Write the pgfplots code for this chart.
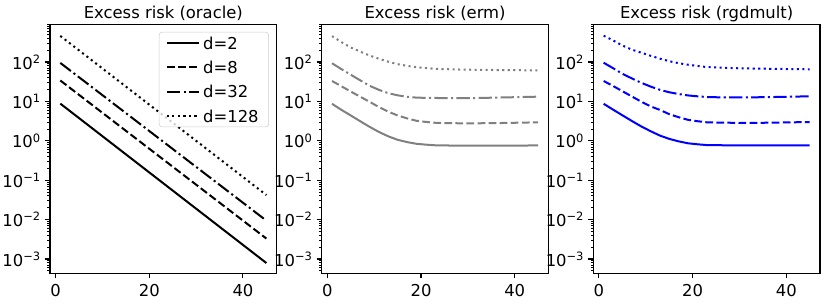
\documentclass[border=0pt]{standalone}
\usepackage{pgfplots}
\pgfplotsset{compat=1.18}
\usepackage{fontspec}
\setmainfont{DejaVu Sans}
\definecolor{mplgray}{HTML}{808080}
\definecolor{mplblue}{HTML}{0000FF}
\newcommand{\fs}{\fontsize{12.3}{14.8}\selectfont}
\pgfplotsset{
  mypanel/.style={
    scale only axis, width=170pt, height=187.1pt,
    xmin=-1.2, xmax=47.2, ymin=4.27e-4, ymax=920,
    xtick={0,20,40}, xticklabels={0,20,40},
    ytick={1e-3,1e-2,1e-1,1,10,100},
    yticklabels={10\textsuperscript{−3},10\textsuperscript{−2},10\textsuperscript{−1},10\textsuperscript{0},10\textsuperscript{1},10\textsuperscript{2}},
    minor ytick={5e-4,6e-4,7e-4,8e-4,9e-4,
      2e-3,3e-3,4e-3,5e-3,6e-3,7e-3,8e-3,9e-3,
      2e-2,3e-2,4e-2,5e-2,6e-2,7e-2,8e-2,9e-2,
      2e-1,3e-1,4e-1,5e-1,6e-1,7e-1,8e-1,9e-1,
      2,3,4,5,6,7,8,9,
      20,30,40,50,60,70,80,90,
      200,300,400,500,600,700,800,900},
    tick pos=left, tick align=outside,
    major tick length=3.65pt, minor tick length=2.1pt,
    every tick/.style={black},
    every major tick/.append style={line width=0.8pt},
    every minor tick/.append style={line width=0.6pt},
    axis line style={line width=0.8pt, black},
    tick label style={font=\fs},
    yticklabel style={inner sep=0pt, xshift=-3pt},
    xticklabel style={inner sep=0pt, yshift=-4.2pt},
    every axis title/.style={font=\fs, at={(0.5,1)}, anchor=base, yshift=4.1pt, inner sep=0pt},
    every axis plot/.append style={line width=1.5pt},
  },
  sdashed/.style={dash pattern=on 5.8pt off 2.5pt},
  sdashdot/.style={dash pattern=on 10pt off 2.5pt on 1.56pt off 2.5pt},
  sdotted/.style={dash pattern=on 1.56pt off 2.58pt},
}
\begin{document}
\begin{tikzpicture}
\useasboundingbox (0,0) rectangle (622.5pt,227.25pt);
% ---------------- oracle ----------------
\begin{axis}[ymode=log, mypanel, anchor=south west, at={(37.5pt,22.1pt)}, title={Excess risk (oracle)},
  legend style={at={(1,1)}, anchor=north east, xshift=-5.8pt, yshift=-5.8pt,
    draw=black!20, rounded corners=2.3pt, fill=white, fill opacity=0.8, draw opacity=1, text opacity=1,
    font=\fs, inner xsep=5pt, inner ysep=1pt, row sep=4.1pt,
    nodes={inner sep=2.5pt, text height=9.2pt, text depth=0pt}},
  legend cell align=left,
  legend image code/.code={\draw[#1] (0pt,0pt) -- (24pt,0pt);}]
\addplot[black, solid] coordinates {(1,8.8) (45,7.9e-4)};
\addplot[black, sdashed] coordinates {(1,34) (45,3.3e-3)};
\addplot[black, sdashdot] coordinates {(1,95) (45,9.4e-3)};
\addplot[black, sdotted] coordinates {(1,460) (45,4.2e-2)};
\legend{d=2,d=8,d=32,d=128}
\end{axis}
% ---------------- erm ----------------
\begin{axis}[ymode=log, mypanel, anchor=south west, at={(241.3pt,22.1pt)}, title={Excess risk (erm)}]
\addplot[mplgray, solid] coordinates {(1,8.7) (3,6.1) (5,4.4) (7,3.15) (9,2.27) (11,1.68) (13,1.3) (15,1.06) (17,0.93) (19,0.84) (21,0.8) (23,0.77) (26,0.76) (30,0.755) (35,0.755) (40,0.758) (45,0.762)};
\addplot[mplgray, sdashed] coordinates {(1,33) (3,24.3) (5,17.8) (7,13.2) (9,9.8) (11,7.2) (13,5.5) (15,4.4) (17,3.72) (19,3.23) (21,3.02) (23,2.87) (26,2.8) (30,2.78) (35,2.8) (40,2.87) (45,2.95)};
\addplot[mplgray, sdashdot] coordinates {(1,93) (3,66) (5,47.6) (7,34.4) (9,25) (11,19.7) (13,16.2) (15,14.3) (17,13.1) (19,12.5) (21,12.3) (24,12.2) (28,12.1) (32,12.2) (36,12.5) (40,12.8) (45,13.2)};
\addplot[mplgray, sdotted] coordinates {(1,455) (3,321) (5,234) (7,184) (9,146.5) (11,121) (13,102) (15,88.3) (17,80) (19,74) (21,70.5) (23,67.3) (26,65.5) (30,63.8) (35,62.8) (40,62) (45,61.5)};
\end{axis}
% ---------------- rgdmult ----------------
\begin{axis}[ymode=log, mypanel, anchor=south west, at={(445pt,22.1pt)}, title={Excess risk (rgdmult)}]
\addplot[mplblue, solid] coordinates {(1,8.7) (3,6.2) (5,4.45) (7,3.2) (9,2.33) (11,1.76) (13,1.36) (15,1.12) (17,0.97) (19,0.865) (21,0.817) (23,0.78) (26,0.772) (30,0.765) (35,0.763) (40,0.764) (45,0.766)};
\addplot[mplblue, sdashed] coordinates {(1,33) (3,24.7) (5,18.2) (7,13.4) (9,9.9) (11,7.5) (13,6.1) (15,4.75) (17,3.98) (19,3.41) (21,3.15) (23,2.95) (26,2.9) (30,2.85) (35,2.87) (40,2.93) (45,3.0)};
\addplot[mplblue, sdashdot] coordinates {(1,96) (3,70) (5,50.4) (7,38.5) (9,29.8) (11,23.9) (13,19.7) (15,17.1) (17,15.4) (19,14.2) (21,13.5) (23,12.9) (26,12.7) (30,12.6) (35,12.8) (40,13.1) (45,13.5)};
\addplot[mplblue, sdotted] coordinates {(1,466) (3,355) (5,263) (7,207) (9,173) (11,144.5) (13,122) (15,105) (17,93.5) (19,85.5) (21,79.6) (23,74.6) (26,72.3) (30,69.2) (35,67.9) (40,66.5) (45,65.3)};
\end{axis}
\end{tikzpicture}
\end{document}
